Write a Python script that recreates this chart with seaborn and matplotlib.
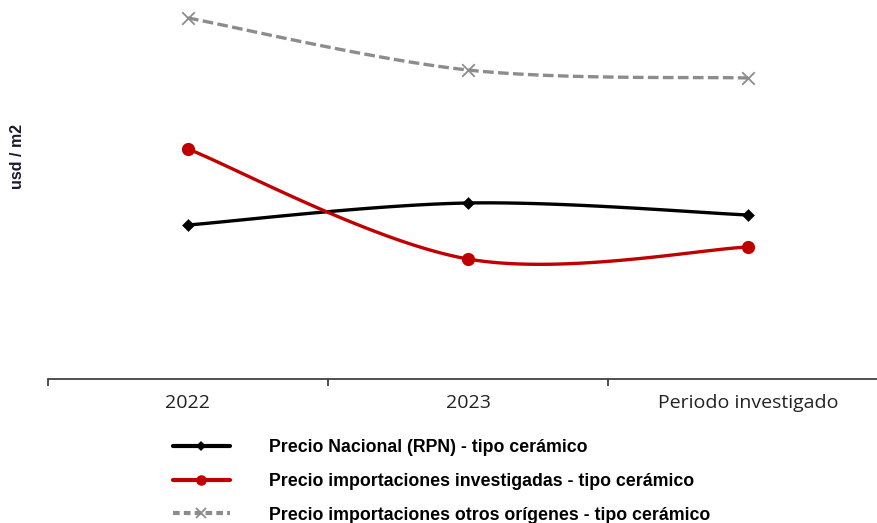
import numpy as np
import matplotlib
matplotlib.use("Agg")
import matplotlib.pyplot as plt
import seaborn as sns
from matplotlib.lines import Line2D

# datos (usd / m2)
periodos = ["2022", "2023", "Periodo investigado"]
precio_nacional = [7.7, 8.8, 8.2]
precio_investigadas = [11.5, 6.0, 6.6]
precio_otros = [18.05, 15.45, 15.05]

series = [
    ("Precio Nacional (RPN) - tipo cerámico", precio_nacional, "#000000", "D", 6.5, "-"),
    ("Precio importaciones investigadas - tipo cerámico", precio_investigadas, "#c00000", "o", 9.5, "-"),
    ("Precio importaciones otros orígenes - tipo cerámico", precio_otros, "#8c8c8c", "x", 9, (0, (3.2, 1.3))),
]


def curva_suave(y, n=60):
    """Línea suavizada estilo Excel (Bezier tipo Catmull-Rom) solo para el trazo"""
    x = np.arange(len(y), dtype=float)
    pts = np.column_stack([x, y])
    xs, ys = [], []
    for i in range(len(pts) - 1):
        p0 = pts[max(i - 1, 0)]
        p1 = pts[i]
        p2 = pts[i + 1]
        p3 = pts[min(i + 2, len(pts) - 1)]
        c1 = p1 + (p2 - p0) / 6
        c2 = p2 - (p3 - p1) / 6
        t = np.linspace(0, 1, n)[:, None]
        b = ((1 - t) ** 3) * p1 + 3 * ((1 - t) ** 2) * t * c1 + 3 * (1 - t) * t ** 2 * c2 + t ** 3 * p2
        xs.extend(b[:, 0])
        ys.extend(b[:, 1])
    return np.array(xs), np.array(ys)


sns.set_theme(style="white")
plt.rcParams['font.family'] = ['Liberation Sans', 'DejaVu Sans']

fig = plt.figure(figsize=(8.78, 5.23), dpi=100)
ax = fig.add_axes([48 / 878, 1 - 379 / 523, 840 / 878, 379 / 523])

for nombre, valores, color, marcador, tam, estilo in series:
    xs, ys = curva_suave(valores)
    ax.plot(xs, ys, color=color, lw=2.4, linestyle=estilo, zorder=2)
    sns.scatterplot(x=np.arange(len(valores)), y=valores, ax=ax, color=color,
                    marker=marcador, s=tam ** 2, linewidth=1.3 if marcador == "x" else 0,
                    edgecolor=color, zorder=3, legend=False)

ax.set_xlim(-0.5, 2.5)
ax.set_ylim(0, 18.95)
ax.set_yticks([])
ax.set_xticks([0, 1, 2])
ax.set_xticklabels(periodos, fontsize=14, color="#222222", family=["Open Sans", "DejaVu Sans"])
ax.set_xticks([-0.5, 0.5, 1.5, 2.5], minor=True)
ax.tick_params(axis="x", which="major", length=0, pad=11)
ax.tick_params(axis="x", which="minor", length=5, width=1.2, color="#333333", bottom=True)
for lado in ["top", "right", "left"]:
    ax.spines[lado].set_visible(False)
ax.spines["bottom"].set_color("#333333")
ax.spines["bottom"].set_linewidth(1.2)
ax.set_xlabel("")
ax.set_ylabel("")

fig.text(18 / 878, 1 - 156 / 523, "usd / m2", rotation=90, ha="center", va="center",
         fontsize=11.5, fontweight="bold", color="#1a1a2e")

handles = []
for nombre, valores, color, marcador, tam, estilo in series:
    estilo_ley = (0, (1.6, 1.0)) if estilo != "-" else "-"
    handles.append(Line2D([], [], color=color, lw=3, linestyle=estilo_ley, marker=marcador,
                          markersize=tam * 0.8, markeredgewidth=1.3 if marcador == "x" else 0,
                          markeredgecolor=color, label=nombre))

fig.legend(handles=handles, loc="upper left", bbox_to_anchor=(164 / 878, 1 - 430 / 523),
           frameon=False, prop={"size": 12.8, "weight": "bold"}, handlelength=3.2,
           handletextpad=2.2, labelspacing=0.95, borderpad=0, labelcolor="black")

fig.savefig("out.png", dpi=100)
